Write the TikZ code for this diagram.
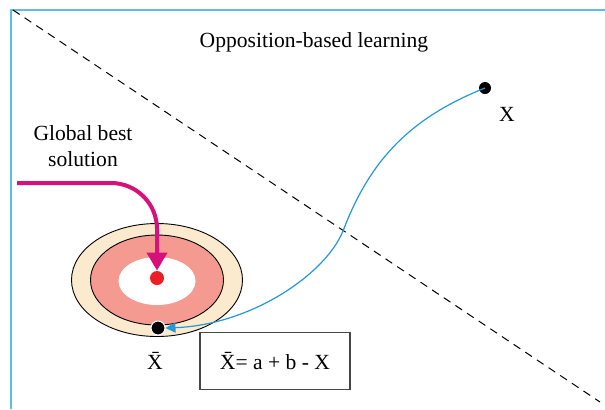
\documentclass[tikz,border=0pt]{standalone}
\usepackage{fontspec}
\setmainfont{Liberation Serif}
\usepackage{tikz}
\usetikzlibrary{arrows.meta, positioning, calc}
\definecolor{frameBlue}{RGB}{96, 188, 230}
\definecolor{pathBlue}{RGB}{38, 152, 214}
\definecolor{bestMagenta}{RGB}{214, 18, 122}
\definecolor{outerBeige}{RGB}{252, 234, 206}
\definecolor{ringPink}{RGB}{244, 154, 145}
\definecolor{dotRed}{RGB}{236, 30, 38}
\definecolor{boxGray}{RGB}{70, 70, 70}

\begin{document}
\begin{tikzpicture}[
    x=0.5pt, y=-0.5pt,
    font=\fontsize{10.8}{13}\selectfont,
    frame/.style={
        draw=frameBlue,
        line width=1pt
    },
    split/.style={
        draw=black,
        line width=0.5pt,
        dash pattern=on 4pt off 3pt
    },
    ringline/.style={
        draw=black,
        line width=0.45pt
    },
    bestarrow/.style={
        draw=bestMagenta,
        line width=2pt,
        rounded corners=23pt,
        -{Triangle[length=9pt, width=10pt]}
    },
    jumparrow/.style={
        draw=pathBlue,
        line width=0.6pt,
        -{Triangle[length=5pt, width=5pt]}
    },
    point/.style={
        circle,
        fill=black,
        inner sep=0pt,
        minimum size=6pt
    },
    formula/.style={
        rectangle,
        draw=boxGray,
        line width=0.6pt,
        minimum width=75pt,
        minimum height=28.5pt
    }
]

\useasboundingbox (0,0) rectangle (605,409);

% Frame
\draw[frame] (11,409) -- (11,10) -- (605,10);

% Separating line
\coordinate (splitA) at (13,10);
\coordinate (splitB) at (600,402);
\draw[split] (splitA) -- (splitB);

% Rings around the best solution
\filldraw[ringline, fill=outerBeige] (157,280) ellipse [x radius=85.5, y radius=56.5];
\filldraw[ringline, fill=ringPink] (157,280) ellipse [x radius=66.5, y radius=45];
\fill[white] (157,281) ellipse [x radius=38.5, y radius=24];
\node[circle, fill=dotRed, inner sep=0pt, minimum size=7pt] (best) at (157,278) {};

% Labels
\node (title) at (314,42) {Opposition-based learning};
\node[align=center] (bestlabel) at (83,146) {Global best\\solution};
\node[point] (xdot) at (485,88) {};
\node (xlabel) at (507,114) {X};
\node[point, draw=white, line width=0.5pt, minimum size=7pt] (xbardot) at (158,328) {};
\node (xbarlabel) at (155,361) {\=X};
\node[formula] (rule) at (275,361) {\=X= a + b - X};

% Arrows
\coordinate (bestin) at (17,183);
\draw[bestarrow] (bestin) -| (best.north);
\coordinate (cross) at (343,231);
\draw[jumparrow] (xdot.center) .. controls (410,118) and (370,160) .. (cross)
    .. controls (325,275) and (250,325) .. (xbardot.east);

\end{tikzpicture}
\end{document}
